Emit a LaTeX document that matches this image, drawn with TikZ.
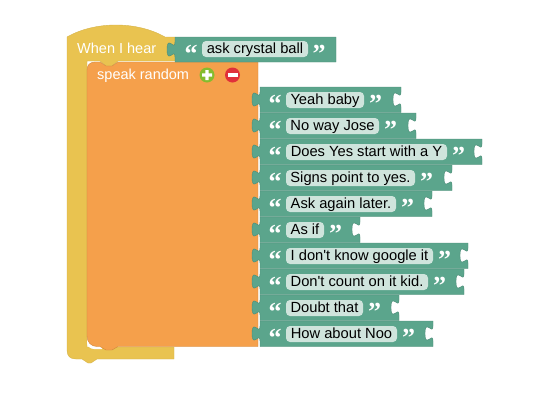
\documentclass[tikz,border=0pt]{standalone}
\usepackage{fontspec}
\newfontfamily\blockfont{Liberation Sans}
\newfontfamily\quotefont{Liberation Serif}
\usetikzlibrary{positioning}
\definecolor{hatyellow}{HTML}{E9C350}
\definecolor{listorange}{HTML}{F5A04B}
\definecolor{textgreen}{HTML}{5BA58C}
\definecolor{pillgreen}{HTML}{CFE4DC}
\definecolor{plusgreen}{HTML}{85BC2E}
\definecolor{minusred}{HTML}{E0303A}
\tikzset{
  hatblock/.style={fill=hatyellow, draw=hatyellow!92!black, line width=.4pt},
  listblock/.style={fill=listorange, draw=listorange!85!black, line width=.4pt},
  textblock/.style={fill=textgreen, draw=textgreen!85!black, line width=.4pt},
  whitetext/.style={text=white, inner sep=0pt, font=\blockfont\fontsize{14.5}{17}\selectfont},
  pill/.style={fill=pillgreen, rounded corners=4pt, inner sep=0pt, text=black, text height=12.5pt, text depth=3.5pt,
    font=\blockfont\fontsize{14.7}{17}\selectfont},
  quotemark/.style={text=white, inner sep=0pt, font=\quotefont\bfseries\fontsize{26}{26}\selectfont},
  mutator/.style={circle, minimum size=15pt, inner sep=0pt},
}
% puzzle tab on a vertical edge, going down from the current point
\newcommand{\tabdown}[2]{-- (#1,#2+5) .. controls (#1,#2+15) and (#1-8,#2-3) .. (#1-8,#2+12.5)
  .. controls (#1-8,#2+28) and (#1,#2+10) .. (#1,#2+20)}
\newcommand{\tabup}[2]{-- (#1,#2+20) .. controls (#1,#2+10) and (#1-8,#2+28) .. (#1-8,#2+12.5)
  .. controls (#1-8,#2-3) and (#1,#2+15) .. (#1,#2+5)}
\begin{document}
\begin{tikzpicture}[x=1pt,y=-1pt]
    \useasboundingbox (0,0) rectangle (547,413);

    % event block and its statement
    \draw[hatblock] (67,37) .. controls (95,21) and (137,21) .. (165,37) -- (175,37) -- (175,61)
      -- (118,61) -- (112,66) -- (106,66) -- (100,61) -- (87,61) -- (87,347) -- (174,347) -- (174,359)
      -- (97,359) -- (91,363) -- (88,363) -- (82,359) -- (76,359) .. controls (70,359) and (67,356) .. (67,350) -- cycle;
    \fill[white] (87,335) -- (87,342) .. controls (87,346) and (90,349) .. (94,349) -- (102,349) -- (102,335) -- cycle;
    \draw[listblock] (87,70) .. controls (87,65) and (90,62) .. (95,62) -- (100,62) -- (106,66) -- (112,66) -- (118,62)
      -- (258,62) -- (258,346.5) -- (118,346.5) -- (112,350) -- (106,350) -- (100,346.5) -- (97,346.5)
      .. controls (91,346.5) and (87,342) .. (87,336) -- cycle;

    \node[whitetext, anchor=base west] (hear) at (77,53.5) {When I hear};
    \node[whitetext, anchor=base west] (speak) at (97,79.5) {speak random};
    \node[mutator, fill=plusgreen] (plus) at (207,75) {};
    \node[mutator, fill=minusred] (minus) at (232.5,75) {};
    \fill[white] (plus.center) +(-5,-1.7) rectangle +(5,1.7) +(-1.7,-5) rectangle +(1.7,5);
    \fill[white] (minus.center) +(-5,-1.7) rectangle +(5,1.7);

    % name of the event
    \draw[textblock] (175,37) -- (336,37) -- (336,62) -- (175,62) \tabup{175}{37} -- cycle;
    \node[pill, minimum width=106pt] (ask) at (255,49) {ask crystal ball};
    \node[quotemark] (askl) at (191,54) {“};
    \node[quotemark] (askr) at (319,54) {”};

    % list of phrases
    \foreach \y/\r/\b/\t/\n in {
      87/401/364/Yeah baby/yeah,
      113/416/379/No way Jose/noway,
      139/482/447/Does Yes start with a Y/does,
      165/452/415/Signs point to yes./signs,
      191/432/396/Ask again later./again,
      217/360/324/As if/asif,
      243/468/433/I don't know google it/google,
      269/464/428/Don't count on it kid./count,
      295/399/363/Doubt that/doubt,
      321/433/397/How about Noo/noo}{
      \draw[textblock] (260,\y) -- (\r,\y) \tabdown{\r}{\y} -- (\r,\y+25.5) -- (260,\y+25.5) \tabup{260}{\y} -- cycle;
      \node[pill, minimum width={(\b-286)*1pt}] (\n) at ({(286+\b)/2},\y+13) {\t};
      \node[quotemark] (\n-l) at (275,\y+17) {“};
      \node[quotemark] (\n-r) at (\b+11.5,\y+17) {”};
    }
  \end{tikzpicture}
\end{document}
